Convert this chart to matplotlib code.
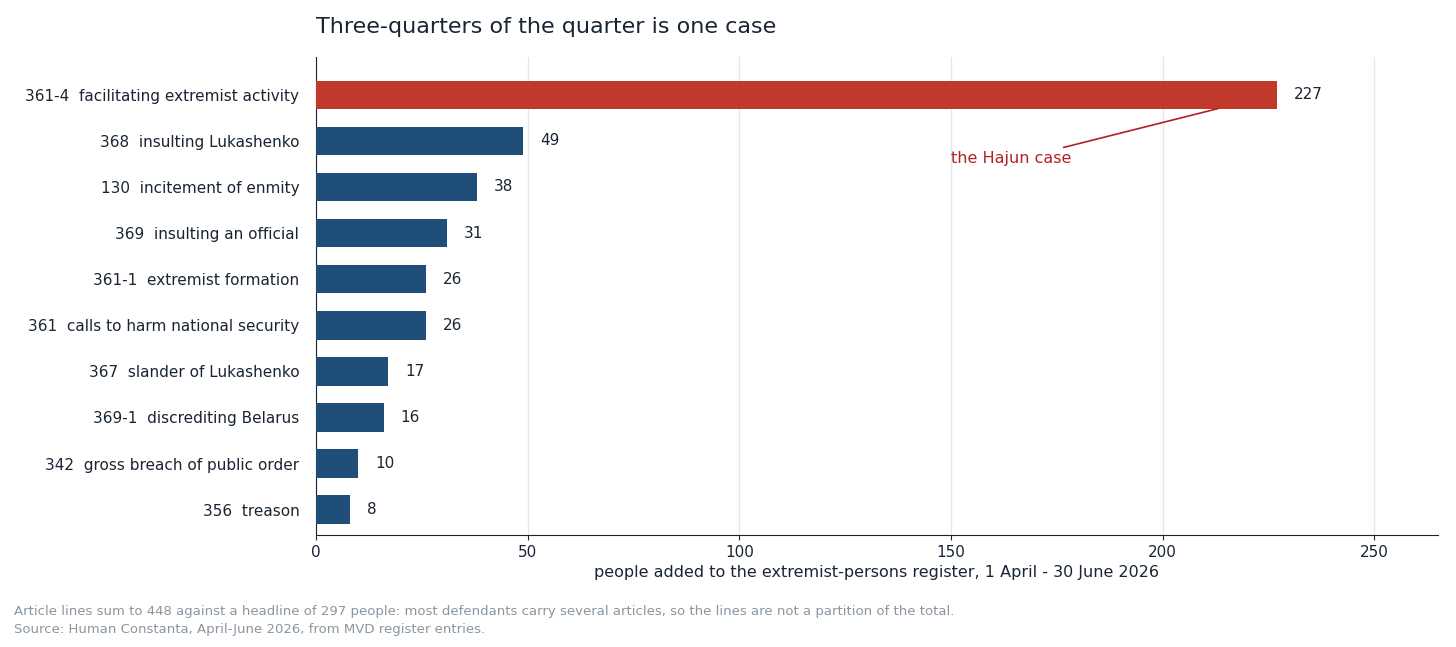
import matplotlib
matplotlib.use("Agg")
import matplotlib.pyplot as plt

labels = ["361-4  facilitating extremist activity", "368  insulting Lukashenko",
          "130  incitement of enmity", "369  insulting an official",
          "361-1  extremist formation", "361  calls to harm national security",
          "367  slander of Lukashenko", "369-1  discrediting Belarus",
          "342  gross breach of public order", "356  treason"]
values = [227, 49, 38, 31, 26, 26, 17, 16, 10, 8]
xticks = [0, 50, 100, 150, 200, 250]

dark = "#1a2533"
red = "#c0392b"
blue = "#1f4e79"

fig = plt.figure(figsize=(14.56, 6.47), dpi=100)
ax = fig.add_axes([316/1456, 1-535/647, (1438-316)/1456, (535-57)/647])

colors = [red] + [blue] * (len(values) - 1)
ypos = list(range(len(values)))
ax.barh(ypos, values, height=0.62, color=colors, zorder=3)
for y, v in zip(ypos, values):
    ax.text(v + 4, y, str(v), va="center", ha="left", fontsize=11, color=dark)

ax.set_yticks(ypos)
ax.set_yticklabels(labels, fontsize=11, color=dark)
ax.set_ylim(9.55, -0.82)
ax.set_xlim(0, 265)
ax.set_xticks(xticks)
ax.tick_params(axis="x", labelsize=11, colors=dark)
ax.tick_params(axis="y", length=0, pad=12)
ax.grid(axis="x", color="#e6e6e6", linewidth=0.9, zorder=0)
for s in ["top", "right"]:
    ax.spines[s].set_visible(False)
for s in ["left", "bottom"]:
    ax.spines[s].set_color(dark)
ax.set_xlabel("people added to the extremist-persons register, 1 April - 30 June 2026",
              fontsize=11.5, color=dark)

ax.annotate("the Hajun case", xy=(213, 0.3), xytext=(150, 1.38),
            fontsize=11.5, color="#b22222", va="center", ha="left",
            arrowprops=dict(arrowstyle="-", color="#b22222", lw=1.2,
                            relpos=(0.82, 1.0), shrinkA=2, shrinkB=0))

fig.text(316/1456, 1-27/647, "Three-quarters of the quarter is one case",
         fontsize=16, color=dark, va="center", ha="left")
fig.text(14/1456, 1-612/647,
         "Article lines sum to 448 against a headline of 297 people: most defendants carry several articles, so the lines are not a partition of the total.",
         fontsize=9.5, color="#8a96a0", va="center")
fig.text(14/1456, 1-629/647, "Source: Human Constanta, April-June 2026, from MVD register entries.",
         fontsize=9.5, color="#8a96a0", va="center")

fig.savefig("out.png", dpi=100)
